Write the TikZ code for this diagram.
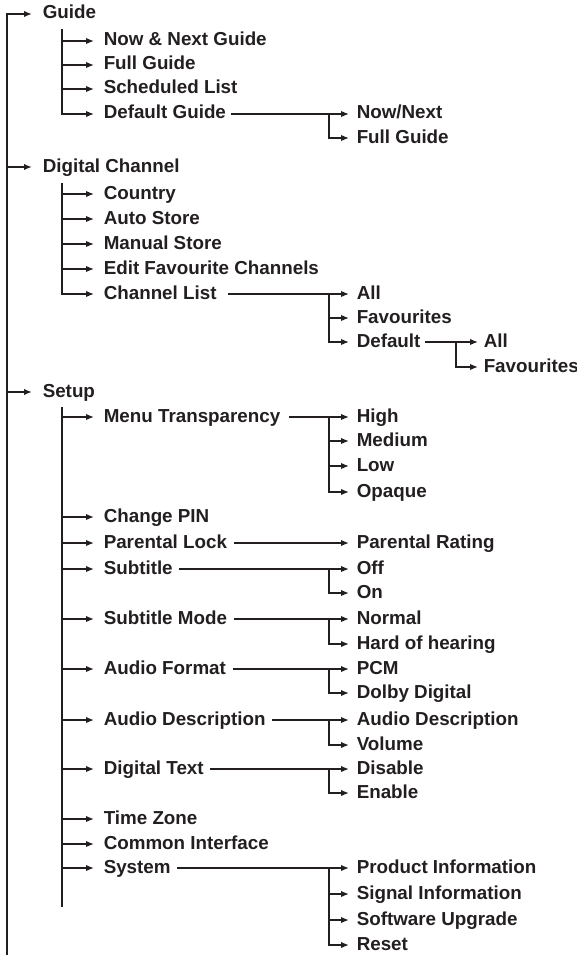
\documentclass[tikz,border=0pt]{standalone}
\usepackage{fontspec}
\setmainfont{Liberation Sans}
\usetikzlibrary{arrows.meta}
\definecolor{ink}{HTML}{231F20}

\begin{document}
\begin{tikzpicture}[x=1pt,y=-1pt,line width=1.5pt,color=ink,
  font=\fontsize{18.8}{22}\selectfont\bfseries,
  item/.style={anchor=west,inner sep=0pt,text height=10pt,text depth=0pt},
  arw/.style={-{Latex[length=8pt,width=6.5pt]},shorten >=#1},
  arw/.default=7pt,
  lead/.style={shorten <=#1},
  lead/.default=6pt]
\useasboundingbox (0,0) rectangle (577,955);

\node[item] (guide) at (42,14) {Guide};
\node[item] (nownext) at (103,41) {Now \& Next Guide};
\node[item] (fullguide) at (103,65) {Full Guide};
\node[item] (sched) at (103,89) {Scheduled List};
\node[item] (defguide) at (103,114) {Default Guide};
\node[item] (gnow) at (356,114) {Now/Next};
\node[item] (gfull) at (356,138) {Full Guide};

\node[item] (digital) at (42,167) {Digital Channel};
\node[item] (country) at (103,194) {Country};
\node[item] (autostore) at (103,219) {Auto Store};
\node[item] (manstore) at (103,244) {Manual Store};
\node[item] (editfav) at (103,269) {Edit Favourite Channels};
\node[item] (chlist) at (103,294) {Channel List};
\node[item] (chall) at (356,294) {All};
\node[item] (chfav) at (356,318) {Favourites};
\node[item] (chdef) at (356,342) {Default};
\node[item] (defall) at (483,342) {All};
\node[item] (deffav) at (483,367) {Favourites};

\node[item] (setup) at (42,392) {Setup};
\node[item] (menutr) at (103,417) {Menu Transparency};
\node[item] (high) at (356,417) {High};
\node[item] (medium) at (356,441) {Medium};
\node[item] (low) at (356,466) {Low};
\node[item] (opaque) at (356,492) {Opaque};
\node[item] (pin) at (103,517) {Change PIN};
\node[item] (parlock) at (103,543) {Parental Lock};
\node[item] (parrating) at (356,543) {Parental Rating};
\node[item] (subtitle) at (103,569) {Subtitle};
\node[item] (suboff) at (356,569) {Off};
\node[item] (subon) at (356,593) {On};
\node[item] (submode) at (103,619) {Subtitle Mode};
\node[item] (normal) at (356,619) {Normal};
\node[item] (hoh) at (356,644) {Hard of hearing};
\node[item] (audfmt) at (103,669) {Audio Format};
\node[item] (pcm) at (356,669) {PCM};
\node[item] (dolby) at (356,693) {Dolby Digital};
\node[item] (auddesc) at (103,720) {Audio Description};
\node[item] (adesc) at (356,720) {Audio Description};
\node[item] (volume) at (356,745) {Volume};
\node[item] (digtext) at (103,769) {Digital Text};
\node[item] (disable) at (356,769) {Disable};
\node[item] (enable) at (356,793) {Enable};
\node[item] (tzone) at (103,819) {Time Zone};
\node[item] (ci) at (103,844) {Common Interface};
\node[item] (system) at (103,868) {System};
\node[item] (prodinfo) at (356,868) {Product Information};
\node[item] (siginfo) at (356,894) {Signal Information};
\node[item] (swup) at (356,920) {Software Upgrade};
\node[item] (reset) at (356,945) {Reset};

\coordinate (root) at (7,955);
\coordinate (gtop) at (62,29);
\coordinate (dtop) at (62,183);
\coordinate (stop) at (62,407);
\coordinate (send) at (62,907);

\draw[arw=10pt,line width=1.8pt] (root) |- (guide.west);
\draw[arw=10pt,line width=1.8pt] (root |- digital.west) -- (digital.west);
\draw[arw=10pt,line width=1.8pt] (root |- setup.west) -- (setup.west);

\draw[arw=9pt] (gtop) |- (defguide.west);
\foreach \n in {nownext,fullguide,sched}
  \draw[arw=9pt] (gtop |- \n.west) -- (\n.west);
\draw[arw,lead=4pt] (defguide.east) -- (gnow.west);
\draw[arw] ([xshift=-27pt]gnow.west) |- (gfull.west);

\draw[arw=9pt] (dtop) |- (chlist.west);
\foreach \n in {country,autostore,manstore,editfav}
  \draw[arw=9pt] (dtop |- \n.west) -- (\n.west);
\draw[arw,lead=11pt] (chlist.east) -- (chall.west);
\draw[arw] ([xshift=-27pt]chall.west) |- (chdef.west);
\draw[arw] ([xshift=-27pt]chfav.west) -- (chfav.west);
\draw[arw=5pt,lead=4pt] (chdef.east) -- (defall.west);
\draw[arw=5pt] ([xshift=-27pt]defall.west) |- (deffav.west);

\draw (stop) -- (send);
\foreach \n in {menutr,pin,parlock,subtitle,submode,audfmt,auddesc,digtext,tzone,ci,system}
  \draw[arw=9pt] (stop |- \n.west) -- (\n.west);

\draw[arw,lead=8pt] (menutr.east) -- (high.west);
\draw[arw] ([xshift=-27pt]high.west) |- (opaque.west);
\foreach \n in {medium,low}
  \draw[arw] ([xshift=-27pt]\n.west) -- (\n.west);
\draw[arw,lead] (parlock.east) -- (parrating.west);
\draw[arw,lead] (subtitle.east) -- (suboff.west);
\draw[arw] ([xshift=-27pt]suboff.west) |- (subon.west);
\draw[arw,lead] (submode.east) -- (normal.west);
\draw[arw] ([xshift=-27pt]normal.west) |- (hoh.west);
\draw[arw,lead] (audfmt.east) -- (pcm.west);
\draw[arw] ([xshift=-27pt]pcm.west) |- (dolby.west);
\draw[arw,lead] (auddesc.east) -- (adesc.west);
\draw[arw] ([xshift=-27pt]adesc.west) |- (volume.west);
\draw[arw,lead] (digtext.east) -- (disable.west);
\draw[arw] ([xshift=-27pt]disable.west) |- (enable.west);
\draw[arw,lead] (system.east) -- (prodinfo.west);
\draw[arw] ([xshift=-27pt]prodinfo.west) |- (reset.west);
\foreach \n in {siginfo,swup}
  \draw[arw] ([xshift=-27pt]\n.west) -- (\n.west);
\end{tikzpicture}
\end{document}
